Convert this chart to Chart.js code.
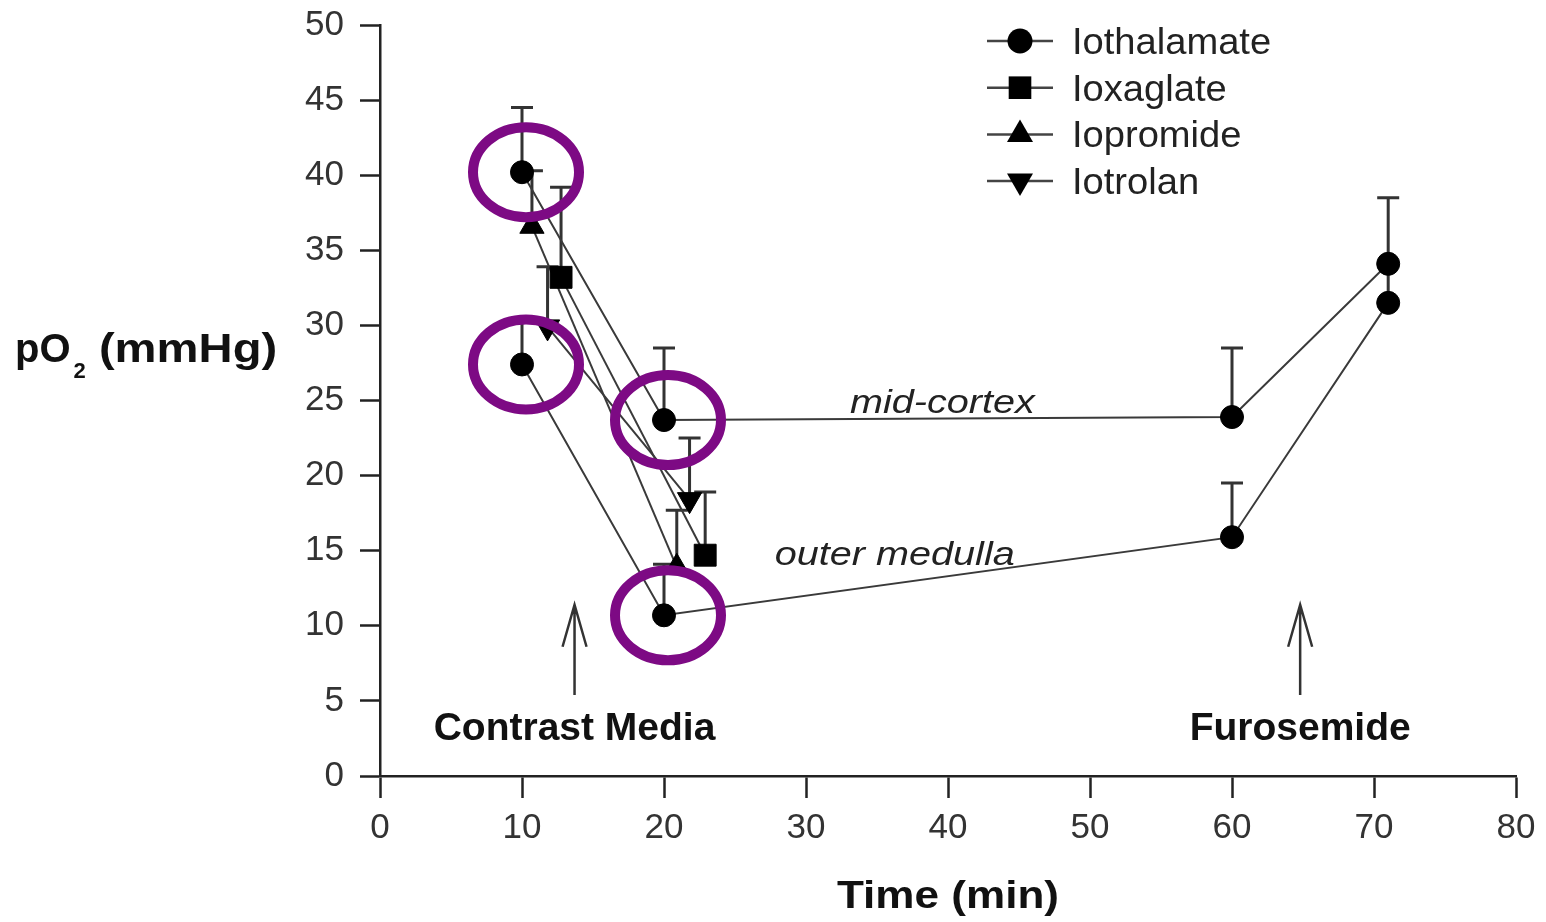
<!DOCTYPE html>
<html>
<head>
<meta charset="utf-8">
<script src="https://cdn.jsdelivr.net/npm/chart.js@4.4.1/dist/chart.umd.min.js"></script>
<style>
html,body{margin:0;padding:0;background:#fff;}
#wrap{width:1546px;height:922px;position:relative;}
</style>
</head>
<body>
<div id="wrap"><canvas id="c" width="1546" height="922"></canvas></div>
<script>
// ---- data ----
const xTicks = [0,10,20,30,40,50,60,70,80];
const yTicks = [0,5,10,15,20,25,30,35,40,45,50];

const cortexT   = [10, 20, 60, 71];
const cortexY   = [40.2, 23.7, 23.9, 34.1];
const cortexErr = [4.3, 4.8, 4.6, 4.4];

const medullaT   = [10, 20, 60, 71];
const medullaY   = [27.4, 10.7, 15.9, 31.5];
const medullaErr = [3.1, 3.4, 3.6, 2.5];

const ioxaglateT   = [12.75, 22.9];
const ioxaglateY   = [33.2, 14.7];
const ioxaglateErr = [6.0, 4.2];

const iopromideT   = [10.7, 20.9];
const iopromideY   = [36.6, 13.9];
const iopromideErr = [3.7, 3.8];

const iotrolanT   = [11.8, 21.8];
const iotrolanY   = [29.9, 18.4];
const iotrolanErr = [4.0, 4.1];

const legendLabels = ['Iothalamate','Ioxaglate','Iopromide','Iotrolan'];
const regionLabels = ['mid-cortex','outer medulla'];
const eventLabels  = ['Contrast Media','Furosemide'];
const eventTimes   = [13.7, 64.8];
const circledPoints = [[10,40.2],[10,27.4],[20,23.7],[20,10.7]];

const pts = (t,y) => t.map((v,i)=>({x:v,y:y[i]}));

const LINE = '#3a3a3a';
const FONT = '"Liberation Sans", Arial, Helvetica, sans-serif';

function ds(label, t, y, err, style, radius, rotation, legend){
  return {
    label, data: pts(t,y), err, legend,
    borderColor: LINE, borderWidth: 2,
    pointStyle: style, pointRadius: radius, pointHoverRadius: radius,
    pointRotation: rotation || 0,
    pointBackgroundColor: '#000', pointBorderColor: '#000', pointBorderWidth: 1,
    showLine: true, fill: false, tension: 0
  };
}

const datasets = [
  ds(legendLabels[0], cortexT, cortexY, cortexErr, 'circle', 11.5, 0, true),
  ds(legendLabels[0]+' (outer medulla)', medullaT, medullaY, medullaErr, 'circle', 11.5, 0, false),
  ds(legendLabels[1], ioxaglateT, ioxaglateY, ioxaglateErr, 'rect', 15.5, 0, true),
  ds(legendLabels[2], iopromideT, iopromideY, iopromideErr, 'triangle', 14, 0, true),
  ds(legendLabels[3], iotrolanT, iotrolanY, iotrolanErr, 'triangle', 14, 180, true)
];

function txt(ctx, s, x, y, font, align, sx, color){
  ctx.save();
  ctx.font = font;
  ctx.fillStyle = color || '#111';
  ctx.textBaseline = 'alphabetic';
  const w = ctx.measureText(s).width * sx;
  let x0 = x;
  if (align === 'center') x0 = x - w/2;
  else if (align === 'right') x0 = x - w;
  ctx.translate(x0, y);
  ctx.scale(sx, 1);
  ctx.fillText(s, 0, 0);
  ctx.restore();
  return w;
}

function marker(ctx, style, x, y, r, rot){
  ctx.save();
  ctx.fillStyle = '#000';
  ctx.beginPath();
  if (style === 'circle') { ctx.arc(x,y,r,0,Math.PI*2); }
  else if (style === 'rect') { const s = r*Math.SQRT1_2; ctx.rect(x-s,y-s,2*s,2*s); }
  else if (style === 'triangle') {
    const a0 = (rot||0)*Math.PI/180;
    for (let k=0;k<3;k++){
      const a = a0 + k*2*Math.PI/3;
      const px = x + Math.sin(a)*r, py = y - Math.cos(a)*r;
      if (k===0) ctx.moveTo(px,py); else ctx.lineTo(px,py);
    }
    ctx.closePath();
  }
  ctx.fill();
  ctx.restore();
}

const errorBars = {
  id: 'errorBars',
  beforeDatasetsDraw(chart){
    const ctx = chart.ctx, xs = chart.scales.x, ys = chart.scales.y;
    ctx.save();
    ctx.strokeStyle = '#333';
    ctx.lineWidth = 3;
    chart.data.datasets.forEach(d=>{
      d.data.forEach((p,i)=>{
        const px = xs.getPixelForValue(p.x);
        const py = ys.getPixelForValue(p.y);
        const pt = ys.getPixelForValue(p.y + d.err[i]);
        ctx.beginPath();
        ctx.moveTo(px, py); ctx.lineTo(px, pt);
        ctx.moveTo(px-11, pt); ctx.lineTo(px+11, pt);
        ctx.stroke();
      });
    });
    ctx.restore();
  }
};

const decorations = {
  id: 'decorations',
  afterDraw(chart){
    const ctx = chart.ctx, xs = chart.scales.x, ys = chart.scales.y;
    const X = v => xs.getPixelForValue(v), Y = v => ys.getPixelForValue(v);

    // y-axis title: pO2 (mmHg)
    const bold = s => 'bold '+s+'px '+FONT;
    let x = 15, yb = 362;
    x += txt(ctx, 'pO', x, yb, bold(40), 'left', 1.0);
    x += 3;
    x += txt(ctx, '2', x, yb+16, bold(22), 'left', 1.0);
    txt(ctx, ' (mmHg)', x, yb, bold(40), 'left', 1.18);

    // x-axis title
    txt(ctx, 'Time (min)', (chart.chartArea.left+chart.chartArea.right)/2, 908, bold(39), 'center', 1.13);

    // region labels
    const it = s => 'italic '+s+'px '+FONT;
    txt(ctx, regionLabels[0], X(33.1), Y(24.2), it(33), 'left', 1.2, '#222');
    txt(ctx, regionLabels[1], X(27.8), Y(14.07), it(33), 'left', 1.2, '#222');

    // event arrows + labels
    ctx.save();
    ctx.strokeStyle = '#333'; ctx.lineWidth = 2.5;
    eventTimes.forEach((t,i)=>{
      const ax = X(t), top = Y(11.4), bot = Y(5.4);
      ctx.beginPath();
      ctx.moveTo(ax, bot); ctx.lineTo(ax, top);
      ctx.moveTo(ax-12, top+42); ctx.lineTo(ax, top); ctx.lineTo(ax+12, top+42);
      ctx.stroke();
      txt(ctx, eventLabels[i], ax, Y(2.4), bold(39), 'center', 1.0);
    });
    ctx.restore();

    // legend
    const lx0 = 987, lx1 = 1053, mx = 1020, tx = 1072;
    let row = 0;
    chart.data.datasets.forEach(d=>{
      if (!d.legend) return;
      const ly = 41 + row*46.7;
      ctx.save();
      ctx.strokeStyle = '#444'; ctx.lineWidth = 2.5;
      ctx.beginPath(); ctx.moveTo(lx0, ly); ctx.lineTo(lx1, ly); ctx.stroke();
      ctx.restore();
      const lr = d.pointStyle === 'circle' ? 12.5 : (d.pointStyle === 'rect' ? 16 : 15);
      marker(ctx, d.pointStyle, mx, ly, lr, d.pointRotation);
      txt(ctx, d.label, tx, ly + 13, '37px '+FONT, 'left', 1.03, '#222');
      row++;
    });

    // purple circles around highlighted points
    ctx.save();
    ctx.strokeStyle = '#7d0a84';
    ctx.lineWidth = 10;
    circledPoints.forEach(p=>{
      ctx.beginPath();
      ctx.ellipse(X(p[0])+4, Y(p[1]), 53, 45, 0, 0, Math.PI*2);
      ctx.stroke();
    });
    ctx.restore();
  }
};

new Chart(document.getElementById('c'), {
  type: 'scatter',
  data: { datasets },
  plugins: [errorBars, decorations],
  options: {
    responsive: false,
    animation: false,
    events: [],
    layout: { padding: { top: 25, right: 30, left: 0, bottom: 0 } },
    plugins: { legend: { display: false }, tooltip: { enabled: false } },
    scales: {
      x: {
        type: 'linear', min: 0, max: 80,
        afterBuildTicks: s => { s.ticks = xTicks.map(v=>({value:v})); },
        afterFit: s => { s.height = 146; s.paddingLeft = 0; s.paddingRight = 0; },
        grid: { drawOnChartArea: false, drawTicks: true, tickLength: 22, tickWidth: 2.5, tickColor: '#222' },
        border: { display: true, width: 2.5, color: '#222' },
        ticks: { color: '#333', padding: 9, font: { family: FONT, size: 35 } }
      },
      y: {
        type: 'linear', min: 0, max: 50,
        afterBuildTicks: s => { s.ticks = yTicks.map(v=>({value:v})); },
        afterFit: s => { s.width = 380; s.paddingTop = 0; s.paddingBottom = 0; },
        grid: { drawOnChartArea: false, drawTicks: true, tickLength: 20, tickWidth: 2.5, tickColor: '#222' },
        border: { display: true, width: 2.5, color: '#222' },
        ticks: { color: '#333', padding: 16, font: { family: FONT, size: 35 } }
      }
    }
  }
});
</script>
</body>
</html>
